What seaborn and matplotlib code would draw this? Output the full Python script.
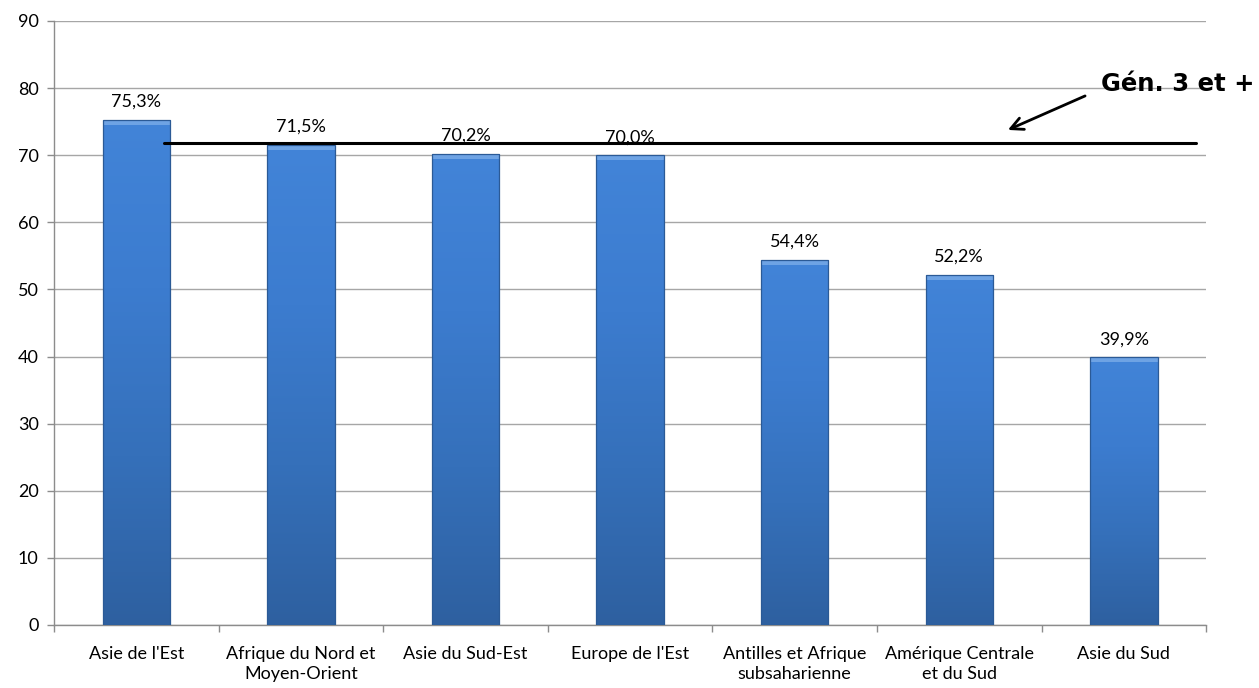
import numpy as np
import pandas as pd
import matplotlib
matplotlib.use("Agg")
import matplotlib.pyplot as plt
import seaborn as sns
from matplotlib.colors import LinearSegmentedColormap
from matplotlib.ticker import FixedLocator

regions = ["Asie de l'Est", "Afrique du Nord et\nMoyen-Orient", "Asie du Sud-Est",
           "Europe de l'Est", "Antilles et Afrique\nsubsaharienne",
           "Amérique Centrale\net du Sud", "Asie du Sud"]
shares = [75.3, 71.5, 70.2, 70.0, 54.4, 52.2, 39.9]
gen3_level = 71.8
gen3_label = "Gén. 3 et +"
y_ticks = list(range(0, 91, 10))

sns.set_theme(style="white")
plt.rcParams["font.family"] = ["Lato", "DejaVu Sans"]
plt.rcParams["text.color"] = "black"
plt.rcParams["xtick.labelcolor"] = "black"
plt.rcParams["ytick.labelcolor"] = "black"

df = pd.DataFrame({"region": regions, "share": shares})

fig = plt.figure(figsize=(12.59, 6.88), dpi=100)
ax = fig.add_axes([0.0429, 0.0916, 0.9151, 0.8779])

sns.barplot(data=df, x="region", y="share", ax=ax, width=0.41,
            color="#3A75C4", saturation=1, edgecolor="none", zorder=3)

ax.set_xlim(-0.5, len(regions) - 0.5)
ax.set_ylim(0, 90)

# vertical shading on each bar: mid blue at the top, deeper blue at the base
shade = LinearSegmentedColormap.from_list(
    "bar_shade", ["#2E60A0", "#3570BA", "#3C7CCF", "#4284D8"])
grad = np.linspace(0, 1, 256).reshape(-1, 1)
px_per_unit = 688 * 0.8779 / 90
for patch in ax.patches:
    x0, y0 = patch.get_x(), patch.get_y()
    w, h = patch.get_width(), patch.get_height()
    im = ax.imshow(grad, cmap=shade, aspect="auto", origin="lower",
                   extent=[x0, x0 + w, y0, y0 + h], zorder=3,
                   interpolation="bilinear")
    im.set_clip_path(patch)
    # light bevel across the top of the bar
    bevel = 5 / px_per_unit
    ax.add_patch(plt.Rectangle((x0, y0 + h - bevel), w, bevel,
                               facecolor="#6EA3E4", edgecolor="none", zorder=4))
    # darker rim
    ax.add_patch(plt.Rectangle((x0, y0), w, h, fill=False,
                               edgecolor="#2B5A96", linewidth=0.9, zorder=4))

ax.set_xlim(-0.5, len(regions) - 0.5)
ax.set_ylim(0, 90)

# value labels
for i, v in enumerate(shares):
    ax.text(i, v + 1.5, f"{v:.1f}%".replace(".", ","), ha="center",
            va="bottom", fontsize=13, color="black", zorder=5)

# reference line for third generation and its label
ax.plot([0.17, 6.44], [gen3_level, gen3_level], color="black", lw=2.2, zorder=6)
ax.annotate("", xy=(5.28, 73.6), xytext=(5.78, 79.0),
            arrowprops=dict(arrowstyle="->", color="black", lw=2,
                            mutation_scale=22),
            annotation_clip=False, zorder=6)
ax.text(5.86, 80.6, gen3_label, fontsize=17.5, fontweight="bold",
        color="black", family=["DejaVu Sans"], ha="left", va="center",
        clip_on=False, zorder=6)

# axes styling
ax.set_yticks(y_ticks)
ax.yaxis.grid(True, color="#A6A6A6", linewidth=1)
ax.set_axisbelow(True)
for side in ["top", "right"]:
    ax.spines[side].set_visible(False)
for side in ["left", "bottom"]:
    ax.spines[side].set_color("#8C8C8C")
    ax.spines[side].set_linewidth(1)

ax.tick_params(axis="y", which="major", left=True, length=5, width=1,
               color="#8C8C8C", labelcolor="black", labelsize=13, pad=6)
ax.tick_params(axis="x", which="major", bottom=False, length=0,
               labelcolor="black", labelsize=13, pad=15)
ax.xaxis.set_minor_locator(FixedLocator(np.arange(-0.5, len(regions), 1.0)))
ax.tick_params(axis="x", which="minor", bottom=True, length=5, width=1,
               color="#8C8C8C")
for lbl in ax.get_xticklabels():
    lbl.set_linespacing(1.3)

ax.set_xlabel("")
ax.set_ylabel("")

fig.savefig("out.png", dpi=100)
